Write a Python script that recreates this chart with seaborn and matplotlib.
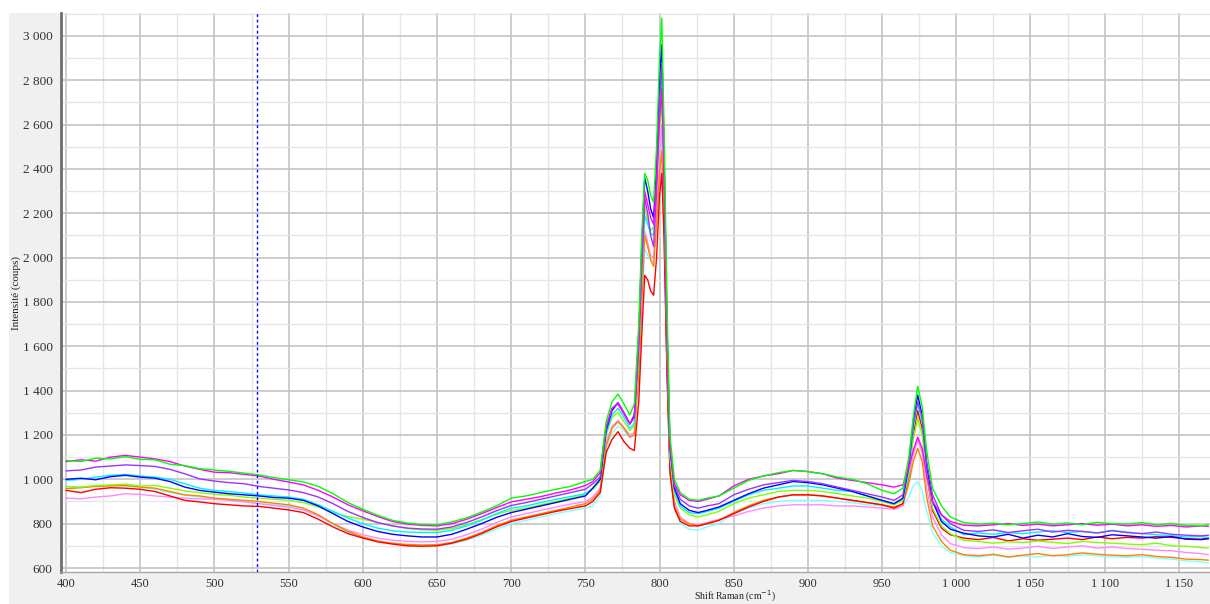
import numpy as np
import pandas as pd
import matplotlib
matplotlib.use("Agg")
import matplotlib.pyplot as plt
from matplotlib.ticker import MultipleLocator, FuncFormatter
import seaborn as sns

# ---------------- data ----------------
shift_a = list(range(400, 751, 10))
shift_b = [755, 760, 764, 768, 772, 776, 780, 783, 786, 788, 790, 792, 794, 796, 798,
           800, 801.5, 803, 805, 807, 810, 814, 820, 826, 832, 840]
shift_c = [850, 860, 870, 880, 890, 900, 910, 920, 930, 940, 950, 958, 964, 968, 971,
           974, 977, 980, 984, 990, 996]
shift_d = list(range(1005, 1166, 10)) + [1170]
shift = shift_a + shift_b + shift_c + shift_d

green = [1085, 1080, 1095, 1092, 1102, 1090, 1088, 1068, 1062, 1048, 1042, 1036, 1028, 1020, 1008, 998, 988, 968, 935, 895, 865, 838, 815, 803, 796, 795, 808, 826, 852, 880, 915, 925, 940, 955, 968, 990,
         1000, 1040, 1260, 1350, 1385, 1340, 1290, 1340, 1700, 2100, 2380, 2350, 2280, 2250, 2500, 2900, 3080, 2600, 1800, 1200, 1000, 940, 910, 905, 915, 925,
         960, 995, 1015, 1030, 1040, 1035, 1025, 1010, 1000, 980, 950, 935, 960, 1100, 1280, 1420, 1330, 1130, 960, 880, 830,
         805, 798, 802, 795, 800, 808, 797, 803, 795, 806, 800, 798, 805, 795, 800, 792, 790, 795]
magenta = [1080, 1088, 1082, 1100, 1108, 1100, 1092, 1080, 1060, 1045, 1032, 1030, 1022, 1015, 1000, 988, 975, 950, 920, 885, 858, 832, 810, 798, 792, 790, 800, 820, 845, 872, 898, 910, 922, 938, 952, 972,
           990, 1030, 1240, 1320, 1340, 1295, 1250, 1280, 1620, 1980, 2300, 2240, 2180, 2150, 2350, 2620, 2760, 2350, 1650, 1150, 980, 930, 905, 900, 910, 925,
           970, 1000, 1015, 1025, 1040, 1035, 1025, 1005, 995, 985, 975, 965, 975, 1050, 1130, 1190, 1140, 1020, 900, 840, 810,
           793, 790, 795, 800, 792, 798, 790, 795, 800, 793, 798, 790, 795, 788, 792, 785, 790, 788]
purple = [1038, 1042, 1055, 1060, 1065, 1062, 1058, 1045, 1025, 1002, 992, 985, 980, 968, 960, 952, 940, 920, 890, 855, 828, 805, 790, 780, 776, 775, 785, 805, 830, 858, 882, 895, 910, 925, 940, 955,
          980, 1010, 1230, 1320, 1345, 1300, 1250, 1280, 1600, 1950, 2270, 2200, 2100, 2050, 2300, 2700, 2880, 2450, 1700, 1150, 970, 910, 880, 870, 880, 890,
          930, 955, 975, 985, 995, 990, 980, 965, 950, 935, 920, 905, 930, 1070, 1250, 1350, 1280, 1080, 930, 840, 800,
          770, 765, 772, 760, 768, 775, 762, 770, 765, 758, 768, 760, 755, 762, 752, 748, 745, 748]
blue = [1000, 1005, 998, 1012, 1018, 1010, 1005, 990, 965, 950, 942, 935, 930, 925, 918, 915, 905, 880, 845, 810, 785, 765, 752, 745, 740, 740, 752, 775, 800, 828, 850, 865, 880, 895, 910, 925,
        960, 1000, 1220, 1310, 1345, 1300, 1250, 1290, 1650, 2050, 2360, 2300, 2220, 2180, 2400, 2800, 2960, 2500, 1700, 1150, 960, 890, 860, 850, 860, 875,
        905, 935, 960, 975, 990, 985, 975, 960, 945, 925, 905, 890, 915, 1060, 1260, 1380, 1290, 1070, 900, 810, 775,
        757, 745, 740, 752, 735, 748, 740, 755, 742, 738, 750, 745, 740, 735, 742, 730, 728, 732]
cyan = [995, 1000, 1010, 1018, 1022, 1015, 1010, 1000, 980, 960, 950, 945, 938, 930, 925, 920, 910, 885, 855, 825, 800, 780, 768, 762, 760, 760, 770, 790, 815, 845, 870, 880, 895, 910, 922, 935,
        960, 1000, 1210, 1290, 1320, 1280, 1230, 1250, 1580, 1930, 2190, 2150, 2110, 2100, 2330, 2650, 2800, 2400, 1650, 1120, 950, 880, 850, 845, 855, 870,
        900, 930, 950, 960, 970, 970, 960, 950, 945, 925, 905, 890, 910, 1040, 1230, 1340, 1260, 1060, 900, 820, 785,
        750, 758, 752, 760, 755, 762, 768, 760, 765, 758, 770, 762, 755, 750, 745, 740, 742, 738]
lime = [968, 965, 972, 975, 978, 970, 972, 960, 948, 940, 932, 928, 920, 915, 910, 905, 895, 875, 850, 832, 820, 805, 790, 778, 772, 770, 778, 795, 818, 842, 860, 870, 885, 900, 915, 930,
        955, 990, 1200, 1280, 1300, 1260, 1220, 1240, 1560, 1900, 2230, 2170, 2120, 2140, 2320, 2580, 2720, 2350, 1620, 1100, 930, 870, 840, 830, 840, 855,
        890, 915, 930, 945, 950, 950, 945, 935, 925, 915, 900, 885, 905, 1020, 1180, 1275, 1200, 1020, 870, 790, 755,
        725, 720, 712, 718, 715, 722, 716, 710, 720, 715, 712, 708, 705, 712, 700, 698, 692, 690]
orange = [958, 962, 968, 970, 972, 965, 960, 945, 930, 925, 915, 910, 905, 900, 892, 885, 870, 840, 800, 765, 740, 722, 712, 706, 704, 705, 715, 735, 760, 790, 815, 830, 845, 860, 875, 890,
          910, 950, 1150, 1230, 1260, 1230, 1190, 1200, 1480, 1800, 2100, 2050, 1990, 1960, 2150, 2380, 2480, 2150, 1500, 1050, 880, 820, 800, 790, 800, 815,
          850, 880, 905, 920, 930, 930, 925, 915, 905, 895, 885, 875, 890, 980, 1080, 1140, 1080, 920, 790, 720, 680,
          660, 655, 662, 650, 658, 665, 655, 660, 668, 662, 658, 655, 660, 652, 648, 640, 638, 635]
red = [950, 940, 955, 962, 960, 955, 945, 925, 905, 898, 890, 885, 880, 878, 870, 862, 850, 820, 785, 755, 735, 718, 708, 700, 698, 700, 712, 730, 755, 785, 810, 825, 840, 855, 868, 880,
       900, 940, 1120, 1180, 1215, 1170, 1140, 1130, 1350, 1650, 1920, 1900, 1850, 1830, 2000, 2280, 2380, 2100, 1480, 1030, 870, 810, 790, 790, 800, 815,
       845, 875, 900, 920, 930, 930, 925, 915, 905, 895, 885, 870, 890, 1020, 1200, 1310, 1230, 1020, 860, 780, 750,
       735, 728, 738, 722, 732, 725, 730, 735, 728, 740, 732, 738, 735, 742, 738, 732, 730, 735]
pink = [915, 912, 920, 925, 935, 932, 925, 920, 915, 912, 910, 905, 898, 890, 882, 875, 862, 835, 800, 770, 750, 735, 725, 720, 718, 720, 730, 750, 775, 805, 830, 845, 860, 875, 888, 900,
        920, 960, 1170, 1240, 1265, 1235, 1200, 1210, 1500, 1820, 2120, 2070, 2010, 2000, 2200, 2450, 2600, 2250, 1550, 1070, 900, 830, 800, 795, 805, 820,
        835, 855, 870, 880, 885, 885, 885, 880, 880, 875, 870, 865, 880, 1000, 1110, 1180, 1120, 960, 830, 750, 710,
        692, 688, 695, 685, 690, 698, 688, 695, 700, 690, 695, 688, 685, 680, 678, 670, 665, 660]
aqua = [960, 965, 970, 972, 970, 965, 955, 940, 928, 920, 915, 908, 900, 892, 885, 880, 865, 835, 795, 760, 740, 722, 710, 702, 698, 700, 708, 725, 748, 775, 800, 815, 830, 845, 858, 870,
        880, 925, 1130, 1210, 1240, 1220, 1190, 1200, 1470, 1780, 2040, 2010, 1990, 1980, 2180, 2420, 2550, 2200, 1500, 1040, 870, 800, 775, 770, 785, 800,
        845, 870, 890, 900, 905, 905, 905, 900, 895, 885, 880, 875, 880, 920, 970, 990, 950, 860, 760, 700, 670,
        655, 650, 658, 648, 655, 650, 658, 652, 660, 655, 650, 648, 652, 645, 640, 632, 628, 622]

series_names = ["aqua", "pink", "orange", "red", "lime", "cyan", "blue", "purple", "magenta", "green"]
series_values = [aqua, pink, orange, red, lime, cyan, blue, purple, magenta, green]
series_colors = ["#80ffff", "#ff88ff", "#ff8000", "#ff0000", "#80ff00", "#00f0ff",
                 "#0000ff", "#9933ff", "#ff00ff", "#00ff00"]

y_ticks = list(range(600, 3001, 200))
x_ticks = list(range(400, 1151, 50))
cursor_x = 529
x_title = "Shift Raman (cm$^{-1}$)"
y_title = "Intensité (coups)"

# ---------------- figure ----------------
frames = []
for name, vals in zip(series_names, series_values):
    frames.append(pd.DataFrame({"shift": shift, "intensity": vals, "spectrum": name}))
df = pd.concat(frames, ignore_index=True)

sns.set_style("white")
plt.rcParams["font.family"] = ["Liberation Serif", "DejaVu Serif"]

W, H = 1210, 604
fig = plt.figure(figsize=(W / 100, H / 100), dpi=100, facecolor="white")
bg = fig.add_axes([9 / W, 0, 1 - 9 / W, (H - 13) / H], zorder=-5)
bg.set_facecolor("#f0f0f0")
bg.set_xticks([])
bg.set_yticks([])
for s in bg.spines.values():
    s.set_visible(False)

ax = fig.add_axes([61 / W, 32 / H, 1 - 61 / W, (572 - 13) / H], zorder=1)
ax.set_facecolor("white")

sns.lineplot(data=df, x="shift", y="intensity", hue="spectrum",
             palette=dict(zip(series_names, series_colors)), hue_order=series_names,
             estimator=None, sort=False, legend=False, linewidth=1.0, ax=ax)

ax.axvline(cursor_x, color="#0000ff", linestyle=(0, (2, 2)), linewidth=1.0)

ax.set_xlim(396.6, 1171)
ax.set_ylim(582, 3103)
ax.set_xticks(x_ticks)
ax.set_yticks(y_ticks)
ax.xaxis.set_minor_locator(MultipleLocator(25))
ax.yaxis.set_minor_locator(MultipleLocator(100))
fmt = FuncFormatter(lambda v, p: f"{int(round(v)):,}".replace(",", " "))
ax.xaxis.set_major_formatter(fmt)
ax.yaxis.set_major_formatter(fmt)

ax.grid(which="major", color="#c4c4c4", linewidth=1.2)
ax.grid(which="minor", color="#e6e6e6", linewidth=1.0)
ax.set_axisbelow(True)

ax.tick_params(which="major", direction="out", length=4, width=1, color="#505050",
               labelsize=9.5, labelcolor="#303030", pad=2)
ax.tick_params(which="minor", direction="out", length=2.5, width=1, color="#505050")
ax.tick_params(axis="x", which="major", length=3, pad=1, labelsize=9)

for s in ["top", "right"]:
    ax.spines[s].set_visible(False)
ax.spines["left"].set_color("#6e6e6e")
ax.spines["left"].set_linewidth(2)
ax.spines["bottom"].set_color("#a8a8a8")
ax.spines["bottom"].set_linewidth(1)

ax.set_xlabel("")
ax.set_ylabel(y_title, fontsize=8, color="#202020", labelpad=1)
fig.text(735 / W, 0.0, x_title, ha="center", va="bottom", fontsize=7, color="#202020")

fig.savefig("out.png", dpi=100, facecolor=fig.get_facecolor())
